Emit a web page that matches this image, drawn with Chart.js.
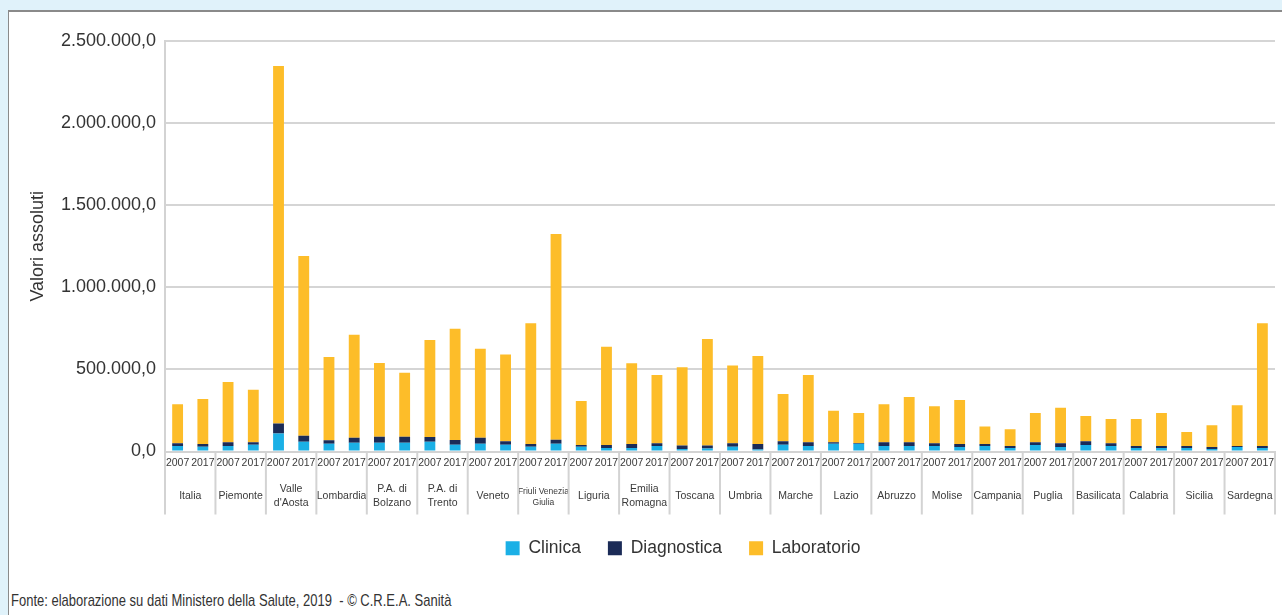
<!DOCTYPE html>
<html>
<head>
<meta charset="utf-8">
<script src="https://cdn.jsdelivr.net/npm/chart.js@4.4.1/dist/chart.umd.min.js"></script>
<style>
  html, body { margin: 0; padding: 0; background: #e0f2fa; overflow: hidden; }
  #box { position: absolute; left: 8px; top: 10px; width: 1274px; height: 605px; background: #fff;
         border-top: 2px solid #8a8a8a; border-left: 1px solid #8a8a8a; overflow: hidden; }
  #wrap { position: absolute; left: 0px; top: 0px; width: 1350px; height: 563px; }
  #foot { position: absolute; left: 2px; top: 579px; font-family: 'Liberation Sans', Arial, sans-serif;
          font-size: 17px; color: #333; white-space: pre; transform: scaleX(0.765); transform-origin: 0 0; }
</style>
</head>
<body>
<div id="box">
  <div id="wrap"><canvas id="mycanvas"></canvas></div>
  <div id="foot">Fonte: elaborazione su dati Ministero della Salute, 2019  - © C.R.E.A. Sanità</div>
</div>
<script>
var regions = ['Italia', 'Piemonte', ['Valle', "d'Aosta"], 'Lombardia', ['P.A. di', 'Bolzano'], ['P.A. di', 'Trento'],
               'Veneto', ['Friuli Venezia', 'Giulia'], 'Liguria', ['Emilia', 'Romagna'], 'Toscana', 'Umbria', 'Marche',
               'Lazio', 'Abruzzo', 'Molise', 'Campania', 'Puglia', 'Basilicata', 'Calabria', 'Sicilia', 'Sardegna'];
var years = ['2007', '2017'];

// values per bar: 2007, 2017 for each region
var clinica = [33000, 29000, 33000, 41000, 110000, 59000, 47000, 53000, 53000, 53000, 59000, 41000,
               47000, 41000, 29000, 47000, 29000, 21000, 21000, 33000, 15000, 18000, 29000, 12000,
               41000, 33000, 47000, 47000, 33000, 33000, 33000, 27000, 33000, 21000, 39000, 27000,
               39000, 33000, 21000, 21000, 21000, 15000, 27000, 21000];
var diagnostica = [18000, 16000, 24000, 16000, 61000, 37000, 22000, 30000, 37000, 37000, 30000, 29000,
                   37000, 22000, 16000, 24000, 10000, 18000, 24000, 18000, 22000, 18000, 22000, 33000,
                   22000, 24000, 10000, 5000, 24000, 24000, 18000, 18000, 12000, 12000, 18000, 24000,
                   24000, 18000, 12000, 12000, 12000, 12000, 6000, 12000];
var laboratorio = [236000, 275000, 366000, 319000, 2176000, 1094000, 506000, 628000, 449000, 390000, 590000, 678000,
                   542000, 527000, 736000, 1254000, 269000, 599000, 492000, 415000, 476000, 649000, 472000, 537000,
                   287000, 409000, 191000, 182000, 230000, 275000, 224000, 269000, 108000, 102000, 177000, 216000,
                   153000, 147000, 165000, 201000, 86000, 133000, 248000, 748000];

var yTicks = [0, 500000, 1000000, 1500000, 2000000, 2500000];

var barLabels = [];
for (var i in regions) {
  barLabels.push(years[0]);
  barLabels.push(years[1]);
}

function itFormat(v) {
  var s = Math.round(v).toString().replace(/\B(?=(\d{3})+(?!\d))/g, '.');
  return s + ',0';
}

var sans = "'Liberation Sans', Arial, sans-serif";

var separators = {
  id: 'separators',
  afterLayout: function(chart) {
    // legend sits a little right of the canvas centre in the original
    chart.legend.left += 41;
    chart.legend.right += 41;
  },
  afterDraw: function(chart) {
    var x = chart.scales.x, x2 = chart.scales.x2, ctx = chart.ctx;
    var w = x.getPixelForValue(1) - x.getPixelForValue(0);
    ctx.save();
    ctx.strokeStyle = '#d3d3d3';
    ctx.lineWidth = 2;
    for (var g = 0; g <= regions.length; g++) {
      var px = x.getPixelForValue(g * 2) - w / 2;
      ctx.beginPath();
      ctx.moveTo(px, chart.chartArea.bottom);
      ctx.lineTo(px, x2.bottom + 2);
      ctx.stroke();
    }
    ctx.restore();
  }
};

var chartdata = {
  labels: barLabels,
  datasets: [
    { label: 'Clinica', backgroundColor: '#1bb0e6', data: clinica },
    { label: 'Diagnostica', backgroundColor: '#1b2b57', data: diagnostica },
    { label: 'Laboratorio', backgroundColor: '#fdbd29', data: laboratorio }
  ]
};

var ctx = document.getElementById('mycanvas');
var barGraph = new Chart(ctx, {
  type: 'bar',
  data: chartdata,
  plugins: [separators],
  options: {
    responsive: true,
    maintainAspectRatio: false,
    animation: false,
    datasets: { bar: { categoryPercentage: 1, barPercentage: 0.43 } },
    layout: { padding: { top: 29, right: 84, bottom: 8, left: 0 } },
    plugins: {
      tooltip: { enabled: false },
      legend: {
        position: 'bottom',
        labels: {
          boxWidth: 14, boxHeight: 14, padding: 27, color: '#333',
          font: { family: sans, size: 17.5 }
        }
      }
    },
    scales: {
      x: {
        stacked: true,
        grid: { display: false, drawTicks: false, tickLength: 0 },
        border: { display: true, color: '#d3d3d3', width: 2 },
        ticks: { autoSkip: false, maxRotation: 0, minRotation: 0, padding: 5, color: '#3a3a3a',
                 font: { family: sans, size: 10.5 } },
        afterFit: function(s) { s.height = 20; }
      },
      x2: {
        type: 'category',
        position: 'bottom',
        labels: regions,
        offset: true,
        grid: { display: false, drawTicks: false, tickLength: 0 },
        border: { display: false },
        ticks: {
          autoSkip: false, maxRotation: 0, minRotation: 0, padding: 18, crossAlign: 'center', color: '#3a3a3a',
          font: function(c) { return { family: sans, size: c.index === 7 ? 8.5 : 10.5, lineHeight: 1.25 }; }
        },
        afterFit: function(s) { s.height = 41; }
      },
      y: {
        stacked: true,
        min: 0,
        max: 2500000,
        afterBuildTicks: function(s) { s.ticks = yTicks.map(function(v) { return { value: v }; }); },
        grid: { color: '#d5d5d5', lineWidth: 2, drawTicks: false },
        border: { display: true, color: '#d3d3d3', width: 2 },
        ticks: { padding: 9, color: '#333', font: { family: sans, size: 18 },
                 callback: function(v) { return itFormat(v); } },
        title: { display: true, text: 'Valori assoluti', color: '#333', padding: { top: 18, bottom: 0 },
                 font: { family: sans, size: 18 } },
        afterFit: function(s) { s.width = 156; }
      }
    }
  }
});
</script>
</body>
</html>
